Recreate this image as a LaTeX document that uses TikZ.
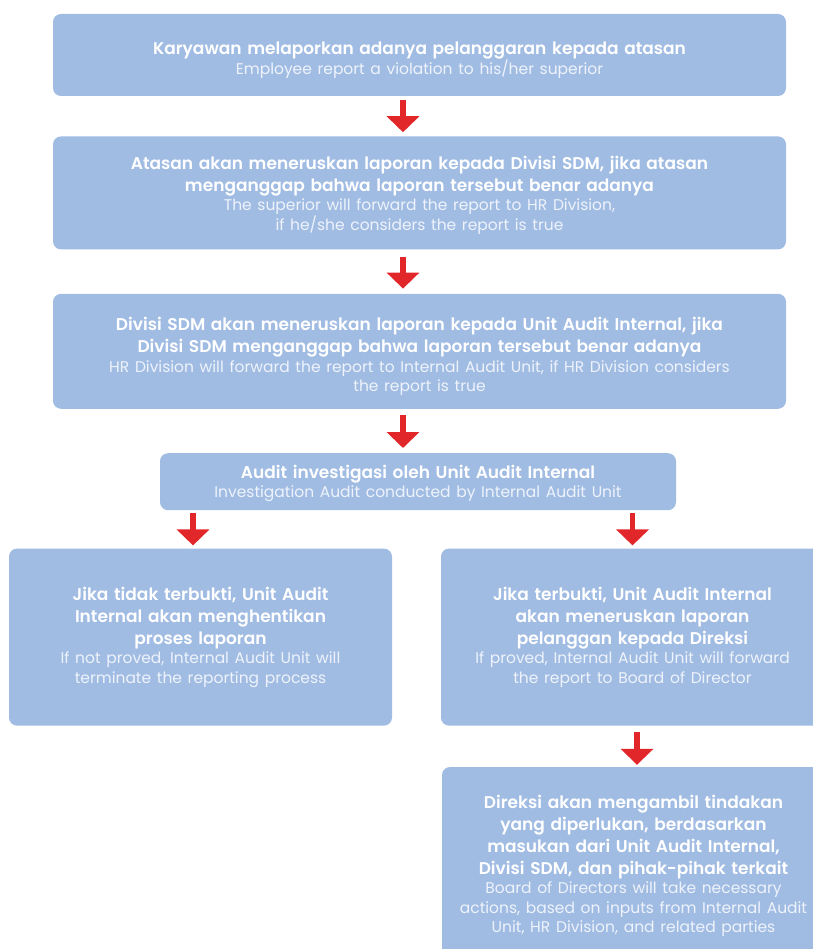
\documentclass[tikz,border=0pt]{standalone}
\usepackage{fontspec}
\setmainfont{Poppins}[BoldFont={Poppins SemiBold}]
\usetikzlibrary{
    positioning,
    arrows.meta
}
\definecolor{BoxBlue}{RGB}{161,188,227}
\definecolor{ArrowRed}{RGB}{226,39,42}
\definecolor{SubText}{RGB}{238,243,251}
\newcommand{\boxtext}[3][0pt]{\rule{0pt}{\dimexpr 13pt+#1\relax}#2\par{\fontsize{15.5}{19.5}\selectfont\mdseries\color{SubText}#3\par}}

\begin{document}
\begin{tikzpicture}[
    node distance=40pt,
    flowbox/.style={rectangle, fill=BoxBlue, rounded corners=8pt, inner sep=0pt, align=center, text=white, font=\fontsize{17}{22}\selectfont\bfseries},
    wide/.style={flowbox, text width=733pt},
    half/.style={flowbox, text width=383pt, minimum height=177pt},
    redarr/.style={-{Triangle[width=32pt,length=16pt]}, line width=5.5pt, color=ArrowRed},
]
\useasboundingbox (0,0) rectangle (812pt,-949pt);
\node[wide, minimum height=82pt] (report) at (419.5pt,-55pt)
    {\boxtext[10pt]{Karyawan melaporkan adanya pelanggaran kepada atasan}
     {Employee report a violation to his/her superior}};
\node[wide, minimum height=113pt, below=40pt of report] (superior)
    {\boxtext[5pt]{Atasan akan meneruskan laporan kepada Divisi SDM, jika atasan\\menganggap bahwa laporan tersebut benar adanya}
     {The superior will forward the report to HR Division,\\if he/she considers the report is true}};
\node[wide, minimum height=115pt, below=44pt of superior] (hrdiv)
    {\boxtext[11pt]{Divisi SDM akan meneruskan laporan kepada Unit Audit Internal, jika\\Divisi SDM menganggap bahwa laporan tersebut benar adanya}
     {HR Division will forward the report to Internal Audit Unit, if HR Division considers\\the report is true}};
\node[flowbox, text width=516pt, minimum height=57pt, below=44pt of hrdiv, xshift=-1.5pt] (audit)
    {\boxtext[4pt]{Audit investigasi oleh Unit Audit Internal}
     {Investigation Audit conducted by Internal Audit Unit}};
\node[half, below=38pt of audit, xshift=-217.5pt] (stop)
    {\boxtext{Jika tidak terbukti, Unit Audit\\Internal akan menghentikan\\proses laporan}
     {If not proved, Internal Audit Unit will\\terminate the reporting process}};
\node[half, below=38pt of audit, xshift=214.5pt] (proved)
    {\boxtext{Jika terbukti, Unit Audit Internal\\akan meneruskan laporan\\pelanggan kepada Direksi}
     {If proved, Internal Audit Unit will forward\\the report to Board of Director}};
\node[half, minimum height=198pt, below=41pt of proved, xshift=1pt] (board)
    {\boxtext{Direksi akan mengambil tindakan\\yang diperlukan, berdasarkan\\masukan dari Unit Audit Internal,\\Divisi SDM, dan pihak-pihak terkait}
     {Board of Directors will take necessary\\actions, based on inputs from Internal Audit\\Unit, HR Division, and related parties}};

% arrows
\draw[redarr, shorten <=4pt, shorten >=4pt] ([xshift=-16.5pt]report.south) -- ([xshift=-16.5pt]superior.north);
\draw[redarr, shorten <=7pt, shorten >=5pt] ([xshift=-16.5pt]superior.south) -- ([xshift=-16.5pt]hrdiv.north);
\draw[redarr, shorten <=6pt, shorten >=5pt] ([xshift=-16.5pt]hrdiv.south) -- ([xshift=-15pt]audit.north);
\draw[redarr, shorten <=3pt, shorten >=3pt] ([xshift=-7.5pt]stop.north |- audit.south) -- ([xshift=-7.5pt]stop.north);
\draw[redarr, shorten <=3pt, shorten >=3pt] (proved.north |- audit.south) -- (proved.north);
\draw[redarr, shorten <=6pt, shorten >=2pt] ([xshift=4.5pt]proved.south) -- ([xshift=3.5pt]board.north);
\end{tikzpicture}
\end{document}
